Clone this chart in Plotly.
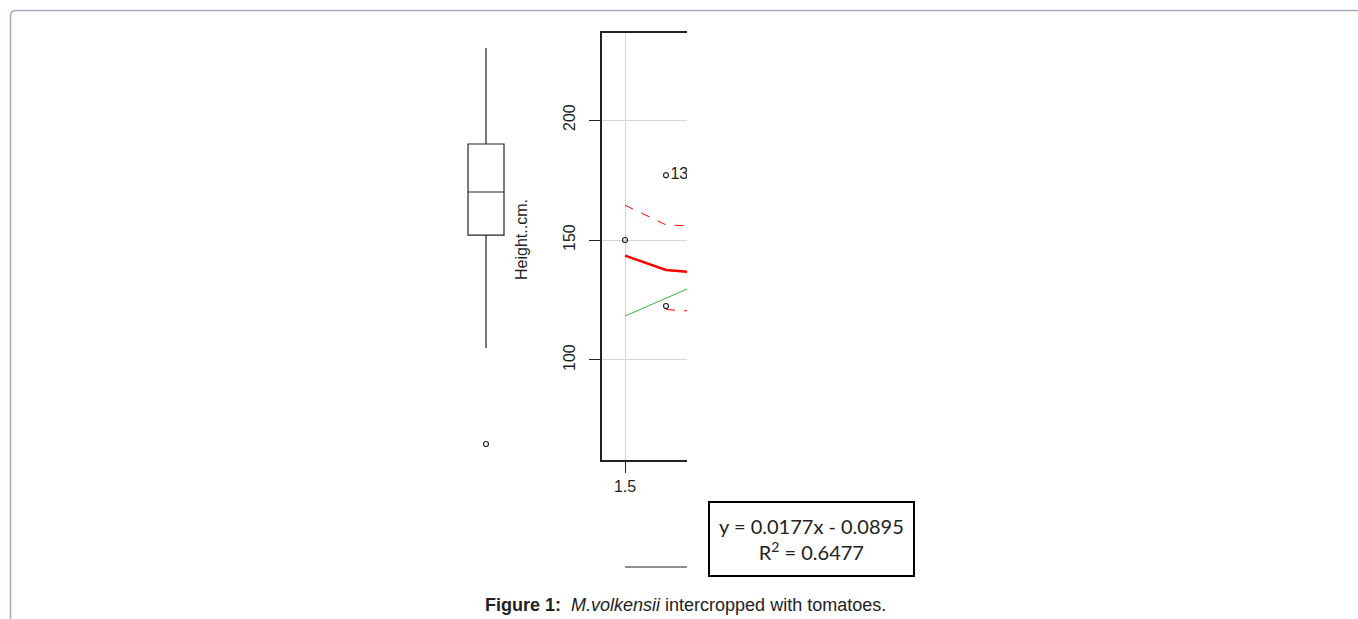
import plotly.graph_objects as go

# --- dados ---
# boxplot (Height..cm.)
box_q1 = [152]
box_mediana = [170]
box_q3 = [190]
box_inf = [105]
box_sup = [230]
box_outlier = [65]

# dispersao
pts_x = [1.5, 1.6, 1.6]
pts_y = [150, 177, 122.5]
rotulo_x = [1.6]
rotulo_y = [177]
rotulo_txt = ["&nbsp;13"]

# reta de regressao (verde)
reg_x = [1.5, 1.7]
reg_y = [118.3, 133.2]

# suavizacao (vermelho) e bandas
suave_x = [1.5, 1.6, 1.7]
suave_y = [143.5, 137.5, 136.0]
banda_sup_y = [164.5, 156.3, 155.5]
banda_inf_x = [1.6, 1.7]
banda_inf_y = [121.0, 120.0]

y_ticks = [100, 150, 200]
x_ticks = [1.5]

W, H = 1358, 619


def px(x):
    return x / W


def py(y):
    return 1 - y / H


y_range = [58.33, 236.25]
y_dom = [py(460), py(33)]

fig = go.Figure()

# Boxplot
fig.add_trace(go.Box(
    x=[0], q1=box_q1, median=box_mediana, q3=box_q3,
    lowerfence=box_inf, upperfence=box_sup,
    width=0.5, whiskerwidth=0, boxpoints=False,
    fillcolor="white", line=dict(color="#222", width=1.2),
    xaxis="x2", yaxis="y2", showlegend=False, hoverinfo="skip"
))
fig.add_trace(go.Scatter(
    x=[0] * len(box_outlier), y=box_outlier, mode="markers",
    marker=dict(symbol="circle-open", size=5, color="#222", line=dict(width=1.2)),
    xaxis="x2", yaxis="y2", showlegend=False
))

# Linhas vermelhas
fig.add_trace(go.Scatter(
    x=suave_x, y=banda_sup_y, mode="lines",
    line=dict(color="red", width=1, dash="dash"), showlegend=False
))
fig.add_trace(go.Scatter(
    x=banda_inf_x, y=banda_inf_y, mode="lines",
    line=dict(color="red", width=1, dash="dash"), showlegend=False
))
fig.add_trace(go.Scatter(
    x=suave_x, y=suave_y, mode="lines",
    line=dict(color="red", width=2.5), showlegend=False
))
# Regressao
fig.add_trace(go.Scatter(
    x=reg_x, y=reg_y, mode="lines",
    line=dict(color="#3cb043", width=1), showlegend=False
))
# Pontos
fig.add_trace(go.Scatter(
    x=pts_x, y=pts_y, mode="markers",
    marker=dict(symbol="circle-open", size=5, color="#222", line=dict(width=1.2)),
    showlegend=False
))
fig.add_trace(go.Scatter(
    x=rotulo_x, y=rotulo_y, mode="text", text=rotulo_txt,
    textposition="middle right", cliponaxis=True,
    textfont=dict(family="Liberation Sans", size=16, color="#222"),
    showlegend=False
))

sx = 410.0  # px por unidade de x
x_range = [1.5 - 23 / sx, 1.5 + 62 / sx]

fonte_eixo = dict(family="Liberation Sans", size=16, color="#222")

fig.update_layout(
    width=W, height=H,
    margin=dict(l=0, r=0, t=0, b=0),
    paper_bgcolor="white", plot_bgcolor="white",
    xaxis=dict(
        domain=[px(602), px(687)], range=x_range, tickvals=x_ticks,
        ticktext=["1.5"], ticks="outside", ticklen=11, tickcolor="#222",
        showgrid=True, gridcolor="#d4d4d4", zeroline=False,
        showline=True, linecolor="#222", linewidth=1.5, mirror=True,
        tickfont=fonte_eixo, anchor="y"
    ),
    yaxis=dict(
        domain=y_dom, range=y_range, tickvals=y_ticks, tickangle=-90,
        ticks="outside", ticklen=11, tickcolor="#222", ticklabelstandoff=8,
        showgrid=True, gridcolor="#d4d4d4", zeroline=False,
        showline=True, linecolor="#222", linewidth=1.5,
        tickfont=fonte_eixo, anchor="x"
    ),
    xaxis2=dict(
        domain=[px(450), px(522)], range=[-0.5, 0.5], visible=False,
        anchor="y2"
    ),
    yaxis2=dict(
        domain=y_dom, range=y_range, visible=False, anchor="x2"
    ),
)

# rotulo do eixo y
fig.add_annotation(
    x=px(521), y=py(240), xref="paper", yref="paper", text="Height..cm.",
    textangle=-90, showarrow=False, xanchor="center", yanchor="middle",
    font=dict(family="Liberation Sans", size=16, color="#222")
)

# caixa da equacao
fig.add_shape(type="rect", xref="paper", yref="paper",
              x0=px(709), x1=px(914), y0=py(576), y1=py(502),
              line=dict(color="black", width=2), fillcolor="white")
fig.add_annotation(
    x=px(811.5), y=py(539), xref="paper", yref="paper",
    text="y = 0.0177x - 0.0895<br>R<sup>2</sup> = 0.6477",
    showarrow=False, align="center", xanchor="center", yanchor="middle",
    font=dict(family="Lato", size=20, color="#222")
)
# traco horizontal
fig.add_shape(type="line", xref="paper", yref="paper",
              x0=px(625), x1=px(687), y0=py(567), y1=py(567),
              line=dict(color="#222", width=1.2))

# legenda da figura
fig.add_annotation(
    x=px(685), y=py(605), xref="paper", yref="paper",
    text="<b>Figure 1:</b>&nbsp;&nbsp;<i>M.volkensii</i> intercropped with tomatoes.",
    showarrow=False, xanchor="center", yanchor="middle",
    font=dict(family="Liberation Sans", size=18, color="#222")
)

# moldura arredondada
fig.add_shape(
    type="path", xref="paper", yref="paper",
    path=f"M {px(10.5)} {py(619)} L {px(10.5)} {py(16)} Q {px(10.5)} {py(10.5)} {px(16)} {py(10.5)} L {px(1358)} {py(10.5)}",
    line=dict(color="#a9a6bf", width=1.5)
)

fig.write_html("out.html", config={"displayModeBar": False},
               post_script="document.body.style.margin='0';")
